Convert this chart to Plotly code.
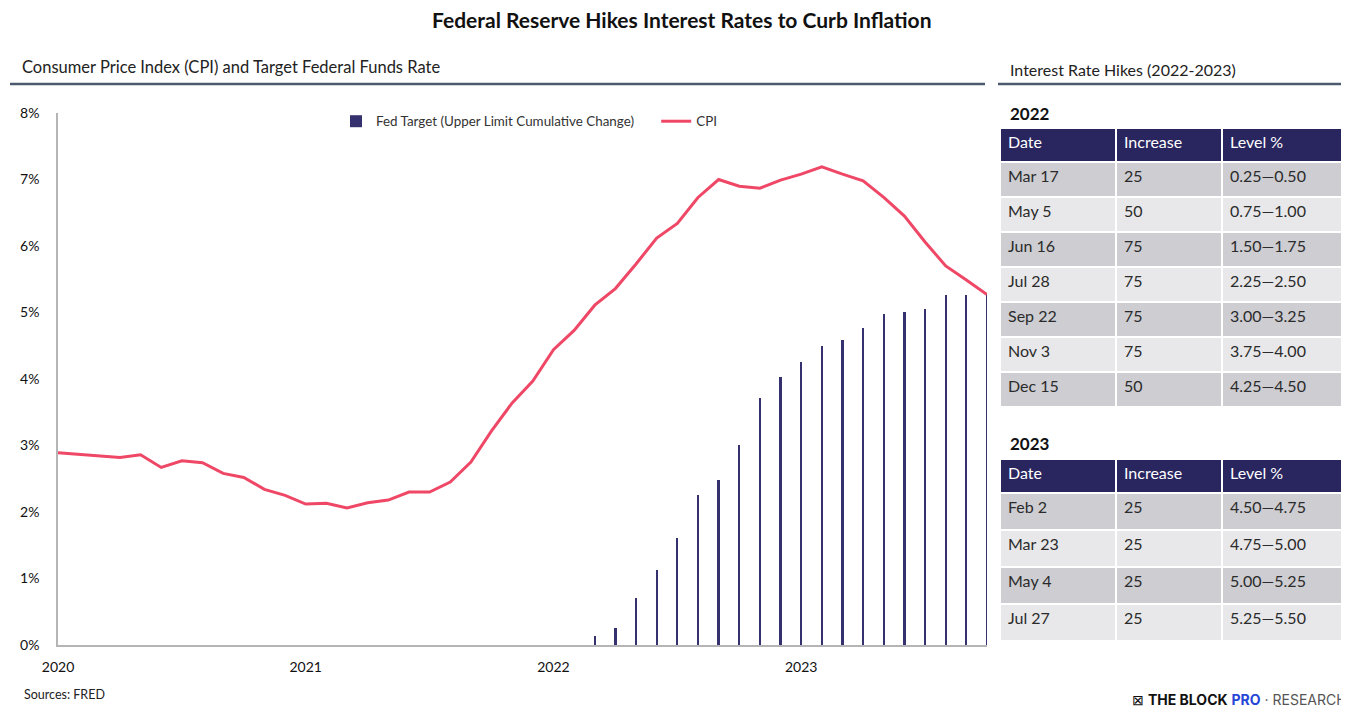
import plotly.graph_objects as go

# The page body adds an 8px offset; size the figure to fill the rest of the window.
OFF = 8
W, H = 1349 - OFF, 708 - OFF

# ---------------- data ----------------
months = [f"{y}-{m:02d}" for y in range(2020, 2024) for m in range(1, 13)][:46]

cpi = [2.89, 2.87, 2.85, 2.82, 2.86, 2.67, 2.77, 2.74, 2.58, 2.52, 2.34, 2.25,
       2.12, 2.13, 2.06, 2.14, 2.18, 2.30, 2.30, 2.45, 2.75, 3.22, 3.64, 3.97,
       4.44, 4.73, 5.11, 5.36, 5.73, 6.12, 6.34, 6.73, 7.00, 6.90, 6.87, 6.99,
       7.08, 7.19, 7.08, 6.98, 6.73, 6.45, 6.06, 5.70, 5.49, 5.27]

fed_months = months[26:]
fed_target = [0.13, 0.26, 0.70, 1.13, 1.61, 2.26, 2.48, 3.01, 3.71, 4.03,
              4.26, 4.50, 4.58, 4.76, 4.98, 5.01, 5.05, 5.26, 5.26, 5.28]

year_ticks = ["2020-01", "2021-01", "2022-01", "2023-01"]
year_labels = ["2020", "2021", "2022", "2023"]
y_ticks = [0, 1, 2, 3, 4, 5, 6, 7, 8]
y_labels = ["0%", "1%", "2%", "3%", "4%", "5%", "6%", "7%", "8%"]

table_cols = ["Date", "Increase", "Level %"]
dates_2022 = ["Mar 17", "May 5", "Jun 16", "Jul 28", "Sep 22", "Nov 3", "Dec 15"]
inc_2022 = ["25", "50", "75", "75", "75", "75", "50"]
lvl_2022 = ["0.25—0.50", "0.75—1.00", "1.50—1.75", "2.25—2.50",
            "3.00—3.25", "3.75—4.00", "4.25—4.50"]
dates_2023 = ["Feb 2", "Mar 23", "May 4", "Jul 27"]
inc_2023 = ["25", "25", "25", "25"]
lvl_2023 = ["4.50—4.75", "4.75—5.00", "5.00—5.25", "5.25—5.50"]

# ---------------- styles ----------------
FONT = "Lato"
NAVY = "#29255f"
BAR = "#34316e"
PINK = "#ef4766"
DARK_ROW = "#cdcdd2"
LIGHT_ROW = "#e8e8ea"
NBSP = "\u00a0"


def fx(px):
    return (px - OFF) / W


def fy(py):
    return 1 - (py - OFF) / H


fig = go.Figure()

fig.add_trace(go.Bar(
    x=fed_months, y=fed_target, width=0.11,
    marker=dict(color=BAR, line=dict(width=0)),
    name="Fed Target (Upper Limit Cumulative Change)" + NBSP * 5,
))
fig.add_trace(go.Scatter(
    x=months, y=cpi, mode="lines",
    line=dict(color=PINK, width=3),
    name="CPI",
))


def row_colors(n):
    return [DARK_ROW if i % 2 == 0 else LIGHT_ROW for i in range(n)]


def add_table(dates, inc, lvl, top, bottom, cell_h):
    n = len(dates)
    fig.add_trace(go.Table(
        domain=dict(x=[fx(1000), 1.0], y=[fy(bottom), fy(top)]),
        columnwidth=[116, 106, 127],
        header=dict(
            values=table_cols,
            fill_color=NAVY,
            line=dict(color="white", width=2),
            align="left",
            height=34,
            font=dict(family=FONT, size=16, color="white"),
        ),
        cells=dict(
            values=[dates, inc, lvl],
            fill_color=[row_colors(n)] * 3,
            line=dict(color="white", width=2),
            align="left",
            height=cell_h,
            font=dict(family=FONT, size=16, color="#2b2b2b"),
        ),
    ))


add_table(dates_2022, inc_2022, lvl_2022, 128, 420, 35)
add_table(dates_2023, inc_2023, lvl_2023, 459, 680, 37)

fig.update_layout(
    width=W, height=H,
    margin=dict(l=0, r=0, t=0, b=0, autoexpand=False),
    paper_bgcolor="white", plot_bgcolor="white",
    font=dict(family=FONT, color="#222"),
    bargap=0,
    showlegend=True,
    legend=dict(
        orientation="h", x=fx(336), y=fy(106), xanchor="left", yanchor="top",
        font=dict(family=FONT, size=13.4, color="#333"),
        itemwidth=30, bgcolor="rgba(0,0,0,0)",
    ),
    xaxis=dict(
        type="category", categoryorder="array", categoryarray=months,
        domain=[fx(58), fx(987)],
        range=[0, 45], automargin=False,
        tickmode="array", tickvals=year_ticks, ticktext=year_labels,
        showgrid=False, zeroline=False,
        showline=True, linecolor="#b5b5b5", linewidth=1.5,
        ticks="", tickfont=dict(family=FONT, size=14, color="#111"),
        ticklabelstandoff=8,
    ),
    yaxis=dict(
        domain=[fy(645), fy(113)], range=[0, 8], automargin=False,
        tickmode="array", tickvals=y_ticks, ticktext=y_labels,
        showgrid=False, zeroline=False,
        showline=True, linecolor="#b5b5b5", linewidth=1.5,
        ticks="", tickfont=dict(family=FONT, size=14, color="#111"),
        ticklabelstandoff=14,
    ),
)

# Header rules
fig.add_shape(type="line", xref="paper", yref="paper",
              x0=fx(10), x1=fx(985), y0=fy(84), y1=fy(84),
              line=dict(color="#4b5a6e", width=2.5))
fig.add_shape(type="line", xref="paper", yref="paper",
              x0=fx(998), x1=1.0, y0=fy(84), y1=fy(84),
              line=dict(color="#4b5a6e", width=2.5))

annots = [
    dict(text="<b>Federal Reserve Hikes Interest Rates to Curb Inflation</b>",
         x=fx(681), y=fy(20), xanchor="center", yanchor="middle",
         font=dict(family=FONT, size=21, color="#111")),
    dict(text="Consumer Price Index (CPI) and Target Federal Funds Rate",
         x=fx(20), y=fy(67), xanchor="left", yanchor="middle",
         font=dict(family=FONT, size=16.5, color="#222")),
    dict(text="Interest Rate Hikes (2022-2023)",
         x=fx(1008), y=fy(70), xanchor="left", yanchor="middle",
         font=dict(family=FONT, size=16, color="#222")),
    dict(text="<b>2022</b>",
         x=fx(1008), y=fy(113), xanchor="left", yanchor="middle",
         font=dict(family=FONT, size=17, color="#111")),
    dict(text="<b>2023</b>",
         x=fx(1008), y=fy(443), xanchor="left", yanchor="middle",
         font=dict(family=FONT, size=17, color="#111")),
    dict(text="Sources: FRED",
         x=fx(22), y=fy(694), xanchor="left", yanchor="middle",
         font=dict(family=FONT, size=12.5, color="#222")),
    dict(text="⊠ <b>THE BLOCK</b> <b><span style='color:#2546d6'>PRO</span></b>"
              "<span style='color:#555'> · RESEARCH</span>",
         x=1.0, y=fy(699), xanchor="right", yanchor="middle",
         font=dict(family="Inter", size=14, color="#111")),
]
for a in annots:
    a.update(xref="paper", yref="paper", showarrow=False)
    fig.add_annotation(**a)

fig.write_html("out.html")
